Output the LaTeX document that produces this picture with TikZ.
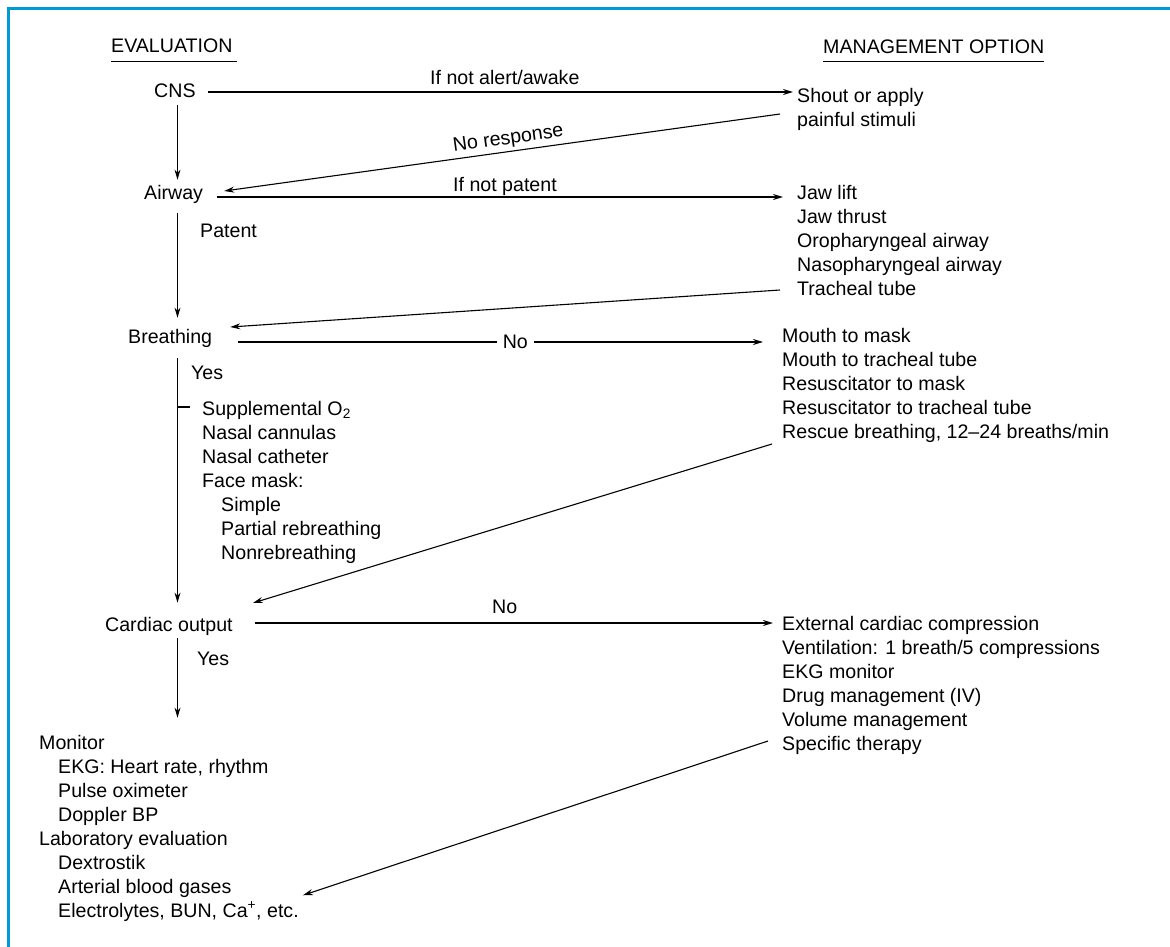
\documentclass[tikz,border=0pt]{standalone}
\usepackage{fontspec}
\setmainfont{Liberation Sans}
\usetikzlibrary{arrows.meta}
\definecolor{frameblue}{RGB}{0,152,216}
\begin{document}
\begin{tikzpicture}[x=1pt,y=-1pt,
  txt/.style={inner sep=0pt, anchor=base west, align=left,
              font=\fontsize{19.6}{24}\selectfont},
  arr/.style={-{Stealth[length=10pt,width=6pt]}, line width=1.1pt},
  harr/.style={arr, line width=1.6pt},
  uline/.style={line width=1.8pt}]
\useasboundingbox (0,0) rectangle (1170,947);

% frame on the top and left edges
\draw[frameblue, line width=3pt] (1170,8.3) -- (8.3,8.3) -- (8.3,947);

% spine of the evaluation column
\coordinate (spine) at (177.5,0);

% column headings
\node[txt] (hdrL) at (111,53) {EVALUATION};
\node[txt] (hdrR) at (823,54) {MANAGEMENT OPTION};
\draw[uline] ([yshift=-8.5pt]hdrL.base west) -- ([shift={(4pt,-8.5pt)}]hdrL.base east);
\draw[uline] ([yshift=-7.5pt]hdrR.base west) -- ([yshift=-7.5pt]hdrR.base east);

% evaluation steps
\node[txt] (cns) at (154,98) {CNS};
\node[txt] (airway) at (144,199) {Airway};
\node[txt] (breathing) at (128,343) {Breathing};
\node[txt] (cardiac) at (105,631) {Cardiac output};

% management options (multi-line nodes sit on the baseline of their last line)
\node[txt] (shout) at (797,127) {Shout or apply\\painful stimuli};
\node[txt] (jaw) at (797,295) {Jaw lift\\Jaw thrust\\Oropharyngeal airway\\Nasopharyngeal airway\\Tracheal tube};
\node[txt] (mouth) at (782,438) {Mouth to mask\\Mouth to tracheal tube\\Resuscitator to mask\\Resuscitator to tracheal tube\\Rescue breathing, 12--24 breaths/min};
\node[txt] (ext) at (782,750) {External cardiac compression\\Ventilation: 1 breath/5 compressions\\EKG monitor\\Drug management (IV)\\Volume management\\Specific therapy};

% oxygen supplementation list
\node[txt] (o2) at (202,559) {Supplemental O\textsubscript{2}\\Nasal cannulas\\Nasal catheter\\Face mask:\\\hspace*{19pt}Simple\\\hspace*{19pt}Partial rebreathing\\\hspace*{19pt}Nonrebreathing};

% monitoring list
\node[txt] (monitor) at (39,917) {Monitor\\\hspace*{19pt}EKG: Heart rate, rhythm\\\hspace*{19pt}Pulse oximeter\\\hspace*{19pt}Doppler BP\\Laboratory evaluation\\\hspace*{19pt}Dextrostik\\\hspace*{19pt}Arterial blood gases\\\hspace*{19pt}Electrolytes, BUN, Ca\textsuperscript{+}, etc.};

% CNS
\draw[harr] ([shift={(12pt,6pt)}]cns.base east) -- ([shift={(-4pt,35pt)}]shout.base west);
\node[txt] (lblalert) at (430,85) {If not alert/awake};
\draw[arr] ([shift={(-17pt,13pt)}]shout.base west) -- ([shift={(21pt,8pt)}]airway.base east);
\node[txt, anchor=base, rotate=7.9] (lblnoresp) at (509,144) {No response};
\draw[arr, shorten <=7pt, shorten >=5pt] (cns.south -| spine) -- (airway.north -| spine);

% Airway
\draw[harr] ([shift={(14pt,2pt)}]airway.base east) -- ([shift={(-14pt,98pt)}]jaw.base west);
\node[txt] (lblpatent) at (453,191) {If not patent};
\draw[arr, shorten <=10pt, shorten >=11pt] (airway.south -| spine) -- (breathing.north -| spine);
\node[txt] (lblpat) at (200,237) {Patent};
\draw[arr] ([shift={(-17pt,5pt)}]jaw.base west) -- ([shift={(18pt,16pt)}]breathing.base east);

% Breathing
\draw[harr] ([shift={(26pt,1pt)}]breathing.base east) -- node[txt, anchor=center, pos=0.528, fill=white, inner xsep=6pt, inner ysep=2pt] (lblnob) {No} ([shift={(-19pt,96pt)}]mouth.base west);
\node[txt] (lblyesb) at (191,379) {Yes};
\draw[arr, shorten <=11pt, shorten >=14pt] (breathing.south -| spine) -- (cardiac.north -| spine);
\draw[line width=1.1pt] ([shift={(-24.5pt,152pt)}]o2.base west) -- ([shift={(-12pt,152pt)}]o2.base west);
\draw[arr] ([shift={(-10pt,-6pt)}]mouth.base west) -- ([shift={(20pt,28pt)}]cardiac.base east);

% Cardiac output
\draw[harr] ([shift={(22pt,8pt)}]cardiac.base east) -- ([shift={(-9pt,127pt)}]ext.base west);
\node[txt] (lblnoc) at (492,613) {No};
\node[txt] (lblyesc) at (197,665) {Yes};
\draw[arr, shorten <=3pt, shorten >=17pt] (cardiac.south -| spine) -- (monitor.north -| spine);
\draw[arr] ([shift={(-14pt,9pt)}]ext.base west) -- ([shift={(4pt,26pt)}]monitor.south east);
\end{tikzpicture}
\end{document}
